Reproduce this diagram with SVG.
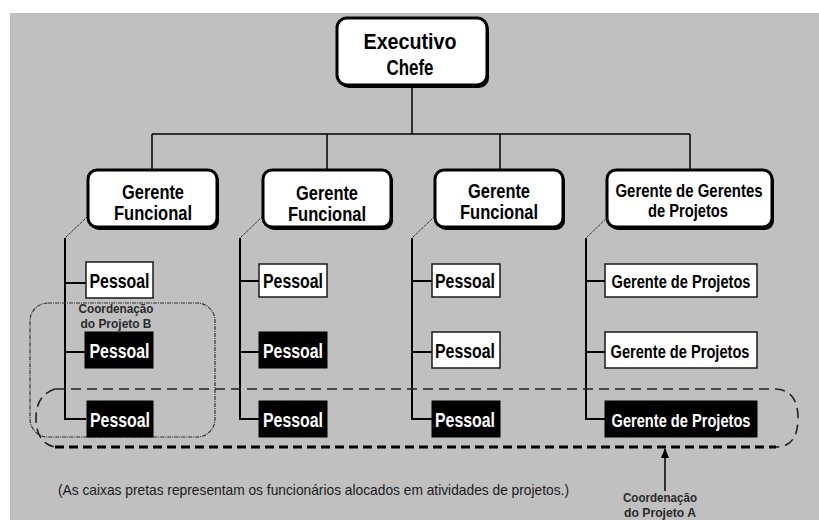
<svg xmlns="http://www.w3.org/2000/svg" width="819" height="520" viewBox="0 0 819 520">
  <defs>
    <style>
      .bg { fill: #c0c0c0; }
      .mgr { fill: #ffffff; stroke: #000000; stroke-width: 3; }
      .shadow { fill: #000000; }
      .wbox { fill: #ffffff; stroke: #1a1a1a; stroke-width: 1.5; }
      .bbox { fill: #000000; stroke: #000000; stroke-width: 1; }
      .t { font-family: "Liberation Sans", Arial, sans-serif; font-weight: bold; text-anchor: middle; }
      .tw { fill: #000000; }
      .tb { fill: #ffffff; }
      .lbl { font-family: "Liberation Sans", Arial, sans-serif; font-weight: bold; font-size: 12px; fill: #2a2a2a; text-anchor: middle; }
      .note { font-family: "Liberation Sans", Arial, sans-serif; font-size: 13px; fill: #1a1a1a; }
      .line { stroke: #000000; stroke-width: 1.5; fill: none; }
      .branch { stroke: #000000; stroke-width: 2; fill: none; }
      .diag { stroke: #333333; stroke-width: 1; fill: none; stroke-dasharray: 3 1; }
      .projA-top { stroke: #222222; stroke-width: 1.6; fill: none; stroke-dasharray: 10 6; }
      .projA-bot { stroke: #000000; stroke-width: 3; fill: none; stroke-dasharray: 9 5; }
      .projB { stroke: #333333; stroke-width: 1.2; fill: none; stroke-dasharray: 4 1 1 1; }
    </style>
    <marker id="arrowhead" viewBox="0 0 10 10" refX="9" refY="5" markerWidth="7" markerHeight="7" orient="auto">
      <path d="M0,1 L10,5 L0,9 z" fill="#000000"/>
    </marker>
  </defs>

  <!-- background panel -->
  <rect class="bg" x="10" y="13" width="809" height="507"/>

  <!-- connectors -->
  <g id="connectors">
    <!-- chief to managers -->
    <path class="line" d="M412,86 V134 M152,134 H690 M152,134 V170 M327,134 V170 M500,134 V170 M690,134 V170"/>
    <!-- column 1 -->
    <path class="diag" d="M88,216 L65,238"/>
    <path class="branch" d="M65,238 V419 H86 M65,283 H86 M65,352 H86"/>
    <!-- column 2 -->
    <path class="diag" d="M263,216 L240,238"/>
    <path class="branch" d="M240,238 V419 H259 M240,281 H259 M240,352 H259"/>
    <!-- column 3 -->
    <path class="diag" d="M435,216 L412,238"/>
    <path class="branch" d="M412,238 V419 H432 M412,281 H432 M412,352 H432"/>
    <!-- column 4 -->
    <path class="diag" d="M609,216 L586,238"/>
    <path class="branch" d="M586,238 V419 H605 M586,281 H605 M586,352 H605"/>
  </g>

  <!-- project B coordination outline -->
  <rect class="projB" x="30" y="303" width="185" height="134" rx="18" ry="18"/>

  <!-- project A coordination outline -->
  <path class="projA-top" d="M55,389 H774 Q798,389 798,418 Q798,447 776,447"/>
  <path class="projA-top" d="M55,389 Q36,395 36,418 Q36,443 55,447"/>
  <path class="projA-bot" d="M55,447 H776"/>

  <!-- chief executive -->
  <g id="executivo-chefe">
    <rect class="shadow" x="339" y="20" width="150" height="68" rx="10" ry="10"/>
    <rect class="mgr" x="337" y="18" width="150" height="67" rx="10" ry="10"/>
    <text class="t tw" x="410" y="49" font-size="22" textLength="93" lengthAdjust="spacingAndGlyphs">Executivo</text>
    <text class="t tw" x="410" y="75" font-size="22" textLength="47" lengthAdjust="spacingAndGlyphs">Chefe</text>
  </g>

  <!-- managers -->
  <g id="gerente-funcional-1">
    <rect class="shadow" x="90" y="172" width="129" height="58" rx="9" ry="9"/>
    <rect class="mgr" x="88" y="170" width="129" height="57" rx="9" ry="9"/>
    <text class="t tw" x="153" y="199" font-size="20" textLength="62" lengthAdjust="spacingAndGlyphs">Gerente</text>
    <text class="t tw" x="153" y="220" font-size="20" textLength="78" lengthAdjust="spacingAndGlyphs">Funcional</text>
  </g>
  <g id="gerente-funcional-2">
    <rect class="shadow" x="265" y="172" width="128" height="58" rx="9" ry="9"/>
    <rect class="mgr" x="263" y="170" width="128" height="57" rx="9" ry="9"/>
    <text class="t tw" x="327" y="200" font-size="20" textLength="62" lengthAdjust="spacingAndGlyphs">Gerente</text>
    <text class="t tw" x="327" y="221" font-size="20" textLength="78" lengthAdjust="spacingAndGlyphs">Funcional</text>
  </g>
  <g id="gerente-funcional-3">
    <rect class="shadow" x="437" y="172" width="128" height="58" rx="9" ry="9"/>
    <rect class="mgr" x="435" y="170" width="128" height="57" rx="9" ry="9"/>
    <text class="t tw" x="499" y="198" font-size="20" textLength="62" lengthAdjust="spacingAndGlyphs">Gerente</text>
    <text class="t tw" x="499" y="219" font-size="20" textLength="78" lengthAdjust="spacingAndGlyphs">Funcional</text>
  </g>
  <g id="gerente-de-gerentes">
    <rect class="shadow" x="609" y="172" width="165" height="58" rx="9" ry="9"/>
    <rect class="mgr" x="607" y="170" width="165" height="57" rx="9" ry="9"/>
    <text class="t tw" x="689" y="197" font-size="18" textLength="147" lengthAdjust="spacingAndGlyphs">Gerente de Gerentes</text>
    <text class="t tw" x="688" y="217" font-size="18" textLength="80" lengthAdjust="spacingAndGlyphs">de Projetos</text>
  </g>

  <!-- column 1 staff -->
  <g id="pessoal-1a">
    <rect class="wbox" x="86" y="262" width="67" height="36"/>
    <text class="t tw" x="119.5" y="288" font-size="20" textLength="60" lengthAdjust="spacingAndGlyphs">Pessoal</text>
  </g>
  <g id="pessoal-1b">
    <rect class="bbox" x="85" y="332" width="68" height="36"/>
    <text class="t tb" x="119.5" y="358" font-size="20" textLength="60" lengthAdjust="spacingAndGlyphs">Pessoal</text>
  </g>
  <g id="pessoal-1c">
    <rect class="bbox" x="87" y="401" width="66" height="36"/>
    <text class="t tb" x="120" y="427" font-size="20" textLength="60" lengthAdjust="spacingAndGlyphs">Pessoal</text>
  </g>

  <!-- column 2 staff -->
  <g id="pessoal-2a">
    <rect class="wbox" x="259" y="264" width="68" height="33"/>
    <text class="t tw" x="293" y="288" font-size="20" textLength="60" lengthAdjust="spacingAndGlyphs">Pessoal</text>
  </g>
  <g id="pessoal-2b">
    <rect class="bbox" x="259" y="332" width="68" height="36"/>
    <text class="t tb" x="293" y="358" font-size="20" textLength="60" lengthAdjust="spacingAndGlyphs">Pessoal</text>
  </g>
  <g id="pessoal-2c">
    <rect class="bbox" x="259" y="401" width="68" height="36"/>
    <text class="t tb" x="293" y="427" font-size="20" textLength="60" lengthAdjust="spacingAndGlyphs">Pessoal</text>
  </g>

  <!-- column 3 staff -->
  <g id="pessoal-3a">
    <rect class="wbox" x="432" y="264" width="68" height="33"/>
    <text class="t tw" x="465" y="288" font-size="20" textLength="60" lengthAdjust="spacingAndGlyphs">Pessoal</text>
  </g>
  <g id="pessoal-3b">
    <rect class="wbox" x="432" y="332" width="68" height="36"/>
    <text class="t tw" x="465" y="358" font-size="20" textLength="60" lengthAdjust="spacingAndGlyphs">Pessoal</text>
  </g>
  <g id="pessoal-3c">
    <rect class="bbox" x="432" y="401" width="68" height="36"/>
    <text class="t tb" x="465" y="427" font-size="20" textLength="60" lengthAdjust="spacingAndGlyphs">Pessoal</text>
  </g>

  <!-- column 4 project managers -->
  <g id="gerente-projetos-a">
    <rect class="wbox" x="605" y="264" width="152" height="33"/>
    <text class="t tw" x="681" y="288" font-size="18" textLength="139" lengthAdjust="spacingAndGlyphs">Gerente de Projetos</text>
  </g>
  <g id="gerente-projetos-b">
    <rect class="wbox" x="605" y="332" width="152" height="36"/>
    <text class="t tw" x="680" y="358" font-size="18" textLength="139" lengthAdjust="spacingAndGlyphs">Gerente de Projetos</text>
  </g>
  <g id="gerente-projetos-c">
    <rect class="bbox" x="605" y="401" width="152" height="36"/>
    <text class="t tb" x="681" y="427" font-size="18" textLength="139" lengthAdjust="spacingAndGlyphs">Gerente de Projetos</text>
  </g>

  <!-- project B label -->
  <text class="lbl" x="116" y="313" textLength="75" lengthAdjust="spacingAndGlyphs">Coordenação</text>
  <text class="lbl" x="116" y="328" textLength="71" lengthAdjust="spacingAndGlyphs">do Projeto B</text>

  <!-- project A pointer and label -->
  <line class="line" x1="665" y1="491" x2="665" y2="449" marker-end="url(#arrowhead)"/>
  <text class="lbl" x="660" y="502" textLength="74" lengthAdjust="spacingAndGlyphs">Coordenação</text>
  <text class="lbl" x="660" y="517" textLength="72" lengthAdjust="spacingAndGlyphs">do Projeto A</text>

  <!-- legend, drawn in a slightly condensed, taller face -->
  <text class="note" transform="translate(58,495) scale(1,1.15)" x="0" y="0" textLength="511" lengthAdjust="spacingAndGlyphs">(As caixas pretas representam os funcionários alocados em atividades de projetos.)</text>
</svg>
